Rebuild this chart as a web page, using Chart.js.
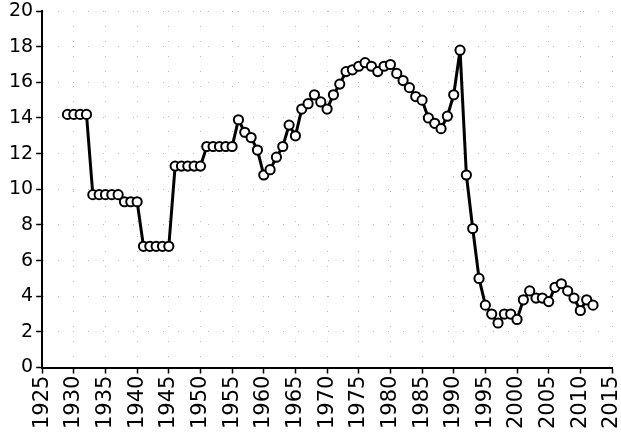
<!DOCTYPE html>
<html>
<head>
<meta charset="utf-8">
<script src="https://cdn.jsdelivr.net/npm/chart.js@4.4.1/dist/chart.umd.min.js"></script>
<style>
  html, body { margin: 0; padding: 0; background: #fff; }
  #wrap { width: 621px; height: 433px; }
</style>
</head>
<body>
<div id="wrap"><canvas id="lineChart" width="621" height="433"></canvas></div>
<script>
const years = [
  1929, 1930, 1931, 1932, 1933, 1934, 1935, 1936, 1937, 1938,
  1939, 1940, 1941, 1942, 1943, 1944, 1945, 1946, 1947, 1948,
  1949, 1950, 1951, 1952, 1953, 1954, 1955, 1956, 1957, 1958,
  1959, 1960, 1961, 1962, 1963, 1964, 1965, 1966, 1967, 1968,
  1969, 1970, 1971, 1972, 1973, 1974, 1975, 1976, 1977, 1978,
  1979, 1980, 1981, 1982, 1983, 1984, 1985, 1986, 1987, 1988,
  1989, 1990, 1991, 1992, 1993, 1994, 1995, 1996, 1997, 1998,
  1999, 2000, 2001, 2002, 2003, 2004, 2005, 2006, 2007, 2008,
  2009, 2010, 2011, 2012
];
const values = [
  14.2, 14.2, 14.2, 14.2, 9.7, 9.7, 9.7, 9.7, 9.7, 9.3,
  9.3, 9.3, 6.8, 6.8, 6.8, 6.8, 6.8, 11.3, 11.3, 11.3,
  11.3, 11.3, 12.4, 12.4, 12.4, 12.4, 12.4, 13.9, 13.2, 12.9,
  12.2, 10.8, 11.1, 11.8, 12.4, 13.6, 13.0, 14.5, 14.8, 15.3,
  14.9, 14.5, 15.3, 15.9, 16.6, 16.7, 16.9, 17.1, 16.9, 16.6,
  16.9, 17.0, 16.5, 16.1, 15.7, 15.2, 15.0, 14.0, 13.7, 13.4,
  14.1, 15.3, 17.8, 10.8, 7.8, 5.0, 3.5, 3.0, 2.5, 3.0,
  3.0, 2.7, 3.8, 4.3, 3.9, 3.9, 3.7, 4.5, 4.7, 4.3,
  3.9, 3.2, 3.8, 3.5
];
const xMin = 1925, xMax = 2015, xStep = 5;
const yMin = 0, yMax = 20, yStep = 2;

document.addEventListener("DOMContentLoaded", () => {
  const ctx = document.getElementById("lineChart").getContext("2d");

  new Chart(ctx, {
    type: "line",
    data: {
      datasets: [{
        data: years.map((y, i) => ({ x: y, y: values[i] })),
        borderColor: "#000",
        borderWidth: 3,
        pointRadius: 4.6,
        pointBorderWidth: 2,
        pointBorderColor: "#000",
        pointBackgroundColor: "#fff",
        tension: 0
      }]
    },
    options: {
      responsive: false,
      animation: false,
      layout: { padding: { left: 6, right: 0, top: 0, bottom: 2 } },
      plugins: {
        legend: { display: false },
        tooltip: { enabled: false }
      },
      scales: {
        x: {
          type: "linear",
          min: xMin,
          max: xMax,
          afterFit: s => { s.paddingRight = 9; },
          ticks: {
            stepSize: xStep,
            minRotation: 90,
            maxRotation: 90,
            color: "#000",
            font: { family: "DejaVu Sans", size: 21 },
            padding: 2,
            callback: v => String(v)
          },
          grid: {
            color: "#bbb",
            lineWidth: 1,
            tickLength: 6,
            tickColor: "#000",
            tickWidth: 1.5,
            tickBorderDash: []
          },
          border: { color: "#000", width: 2, dash: [1, 14] }
        },
        y: {
          min: yMin,
          max: yMax,
          afterFit: s => { s.paddingTop = 11; },
          ticks: {
            stepSize: yStep,
            color: "#000",
            font: { family: "DejaVu Sans", size: 19 },
            padding: 3
          },
          grid: {
            color: "#bbb",
            lineWidth: 1,
            tickLength: 6,
            tickColor: "#000",
            tickWidth: 1.5,
            tickBorderDash: []
          },
          border: { color: "#000", width: 2, dash: [1, 14] }
        }
      }
    }
  });
});
</script>
</body>
</html>
